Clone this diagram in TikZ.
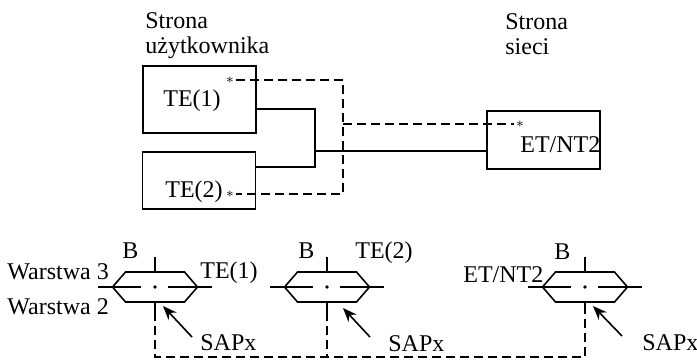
\documentclass[tikz,border=0pt]{standalone}
\usepackage{fontspec}
\setmainfont{Liberation Serif}
\usetikzlibrary{arrows.meta}

\newcommand{\boxLineWidth}{0.9pt}
\newcommand{\linkLineWidth}{0.8pt}
\newcommand{\hexLineWidth}{0.8pt}
\newcommand{\layerY}{287}
\newcommand{\hexHalfW}{42.5}
\newcommand{\hexInset}{13}
\newcommand{\hexHalfH}{15}
\newcommand{\tickLen}{15}
\newcommand{\armLen}{57}
\newcommand{\busY}{357}
\newcommand{\sapOneX}{155}
\newcommand{\sapTwoX}{327}
\newcommand{\sapThreeX}{585}

\tikzset{
    termbox/.style={draw, line width=\boxLineWidth, inner sep=0pt, minimum width=56.5pt},
    txt/.style={anchor=base west, inner sep=0pt, font=\fontsize{12}{12.5}\selectfont},
    starmark/.style={inner sep=0.6pt, font=\scriptsize},
    sig/.style={line width=0.9pt, dash pattern=on 4.5pt off 2.5pt},
    pointer/.style={line width=\linkLineWidth, -{Stealth[length=7pt,width=5.5pt]}}
}

\begin{document}
\begin{tikzpicture}[x=0.5pt,y=-0.5pt]
        \useasboundingbox (0,0) rectangle (697,361);

        % Sides
        \node[txt, align=left] (userside) at (145,53) {Strona\\użytkownika};
        \node[txt, align=left] (netside) at (505,54) {Strona\\sieci};

        % Terminals
        \node[termbox, minimum height=33.5pt] (te1) at (199.5,99.5) {};
        \node[termbox, minimum height=28.5pt] (te2) at (199,180.5) {};
        \node[termbox, minimum height=29pt] (et) at (543.5,140) {};
        \node[txt] (te1text) at (163,106) {TE(1)};
        \node[txt] (te2text) at (165,197) {TE(2)};
        \node[txt] (ettext) at (520,152) {ET/NT2};
        \node[starmark] (star1) at (230,80) {$\ast$};
        \node[starmark] (star2) at (230,194) {$\ast$};
        \node[starmark] (star3) at (520,124) {$\ast$};

        % Draw physical connection
        \coordinate (jTop) at (315,109);
        \coordinate (jMid) at (315,151);
        \coordinate (jBot) at (315,167);
        \draw [line width=\linkLineWidth] (te1.east |- jTop) -- (jTop) -- (jBot) -- (te2.east |- jBot);
        \draw [line width=\linkLineWidth] (jMid) -- (et.west |- jMid);

        % Draw logical connection
        \coordinate (dTop) at (343,80);
        \coordinate (dMid) at (343,124);
        \coordinate (dBot) at (343,194);
        \draw [sig] (star1) -- (dTop) -- (dBot) -- (star2);
        \draw [sig] (dMid) -- (star3);

        % Layer labels
        \node[txt] (layer3) at (7,279) {Warstwa 3};
        \node[txt] (layer2) at (7,314) {Warstwa 2};

        % Draw SAP of TE(1)
        \draw [line width=\hexLineWidth] (\sapOneX-\hexHalfW,\layerY) -- (\sapOneX-\hexHalfW+\hexInset,\layerY-\hexHalfH) -- (\sapOneX+\hexHalfW-\hexInset,\layerY-\hexHalfH) -- (\sapOneX+\hexHalfW,\layerY) -- (\sapOneX+\hexHalfW-\hexInset,\layerY+\hexHalfH) -- (\sapOneX-\hexHalfW+\hexInset,\layerY+\hexHalfH) -- cycle;
        \draw [line width=\hexLineWidth] (\sapOneX,\layerY-\hexHalfH-\tickLen) -- (\sapOneX,\layerY-\hexHalfH);
        \draw [line width=\hexLineWidth] (\sapOneX-\armLen,\layerY) -- (\sapOneX-14,\layerY);
        \draw [line width=\hexLineWidth] (\sapOneX+13,\layerY) -- (\sapOneX+\armLen,\layerY);
        \fill (\sapOneX,\layerY) circle (0.9pt);
        \draw [line width=\hexLineWidth] (\sapOneX,\layerY+\hexHalfH) -- (\sapOneX,\layerY+\hexHalfH+10) coordinate (busA);
        \node[txt] (bA) at (122,258) {B};
        \node[txt] (nameA) at (200,278) {TE(1)};
        \node[txt] (sapxA) at (200,350) {SAPx};
        \coordinate (tailA) at (192,337);
        \coordinate (tipA) at (163,306);
        \draw [pointer] (tailA) -- (tipA);

        % Draw SAP of TE(2)
        \draw [line width=\hexLineWidth] (\sapTwoX-\hexHalfW,\layerY) -- (\sapTwoX-\hexHalfW+\hexInset,\layerY-\hexHalfH) -- (\sapTwoX+\hexHalfW-\hexInset,\layerY-\hexHalfH) -- (\sapTwoX+\hexHalfW,\layerY) -- (\sapTwoX+\hexHalfW-\hexInset,\layerY+\hexHalfH) -- (\sapTwoX-\hexHalfW+\hexInset,\layerY+\hexHalfH) -- cycle;
        \draw [line width=\hexLineWidth] (\sapTwoX,\layerY-\hexHalfH-\tickLen) -- (\sapTwoX,\layerY-\hexHalfH);
        \draw [line width=\hexLineWidth] (\sapTwoX-\armLen,\layerY) -- (\sapTwoX-14,\layerY);
        \draw [line width=\hexLineWidth] (\sapTwoX+13,\layerY) -- (\sapTwoX+\armLen,\layerY);
        \fill (\sapTwoX,\layerY) circle (0.9pt);
        \draw [line width=\hexLineWidth] (\sapTwoX,\layerY+\hexHalfH) -- (\sapTwoX,\layerY+\hexHalfH+10) coordinate (busB);
        \node[txt] (bB) at (298,258) {B};
        \node[txt] (nameB) at (355,258) {TE(2)};
        \node[txt] (sapxB) at (388,351) {SAPx};
        \coordinate (tailB) at (370,337);
        \coordinate (tipB) at (343,308);
        \draw [pointer] (tailB) -- (tipB);

        % Draw SAP of ET/NT2
        \draw [line width=\hexLineWidth] (\sapThreeX-\hexHalfW,\layerY) -- (\sapThreeX-\hexHalfW+\hexInset,\layerY-\hexHalfH) -- (\sapThreeX+\hexHalfW-\hexInset,\layerY-\hexHalfH) -- (\sapThreeX+\hexHalfW,\layerY) -- (\sapThreeX+\hexHalfW-\hexInset,\layerY+\hexHalfH) -- (\sapThreeX-\hexHalfW+\hexInset,\layerY+\hexHalfH) -- cycle;
        \draw [line width=\hexLineWidth] (\sapThreeX,\layerY-\hexHalfH-\tickLen) -- (\sapThreeX,\layerY-\hexHalfH);
        \draw [line width=\hexLineWidth] (\sapThreeX-\armLen,\layerY) -- (\sapThreeX-14,\layerY);
        \draw [line width=\hexLineWidth] (\sapThreeX+13,\layerY) -- (\sapThreeX+\armLen,\layerY);
        \fill (\sapThreeX,\layerY) circle (0.9pt);
        \draw [line width=\hexLineWidth] (\sapThreeX,\layerY+\hexHalfH) -- (\sapThreeX,\layerY+\hexHalfH+10) coordinate (busC);
        \node[txt] (bC) at (554,259) {B};
        \node[txt] (nameC) at (463,282) {ET/NT2};
        \node[txt] (sapxC) at (642,350) {SAPx};
        \coordinate (tailC) at (622,336);
        \coordinate (tipC) at (593,306);
        \draw [pointer] (tailC) -- (tipC);

        % Draw bus between SAPs
        \draw [sig] (busA) -- (busA |- 0,\busY) -- (busC |- 0,\busY) -- (busC);
        \draw [sig] (busB) -- (busB |- 0,\busY);
    \end{tikzpicture}
\end{document}
